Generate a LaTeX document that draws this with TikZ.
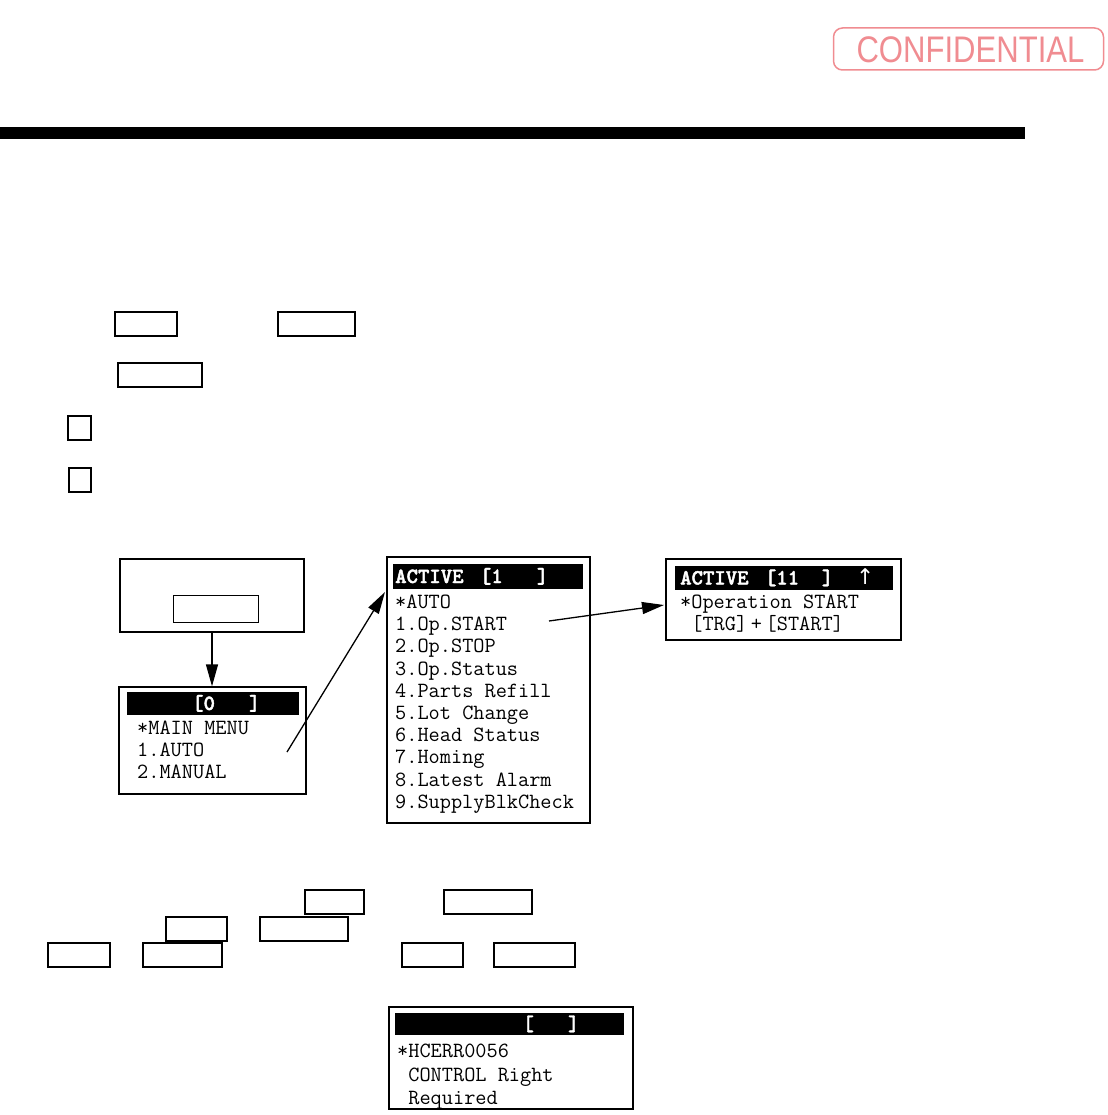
\documentclass[tikz,border=0pt]{standalone}
\usepackage{fontspec}
\setmainfont{Liberation Sans}
\newfontfamily\symfont{DejaVu Sans}
\newfontfamily\scrbold{lmmonolt10-bold.otf}[FakeBold=2]
\usetikzlibrary{arrows.meta,positioning}
\definecolor{stampred}{RGB}{240,140,145}
\tikzset{
  keybox/.style={
    draw,
    line width=1.3pt,
    minimum height=24pt,
    inner sep=0pt
  },
  screen/.style={
    draw,
    line width=1.3pt,
    inner sep=0pt
  },
  scrbar/.style={
    fill=black,
    inner sep=0pt,
    minimum height=24pt
  },
  scrline/.style={
    anchor=base west,
    inner sep=0pt,
    font=\ttfamily\fontsize{21.7}{22}\selectfont
  },
  scrhead/.style={
    anchor=base west,
    inner sep=0pt,
    text=white,
    font=\scrbold\fontsize{21.7}{22}\selectfont
  },
  link/.style={
    line width=1.3pt,
    -{Triangle[length=22pt,width=12pt]}
  },
}

\begin{document}
\begin{tikzpicture}[x=1pt,y=-1pt]
\useasboundingbox (0,0) rectangle (1107,1115);

% stamp and page rule
\node[draw=stampred, line width=1.5pt, rounded corners=9pt,
  minimum width=270pt, minimum height=42pt, inner sep=0pt]
  (stamp) at (968.5,49) {};
\node[text=stampred, font=\fontsize{37}{37}\selectfont, xscale=0.84, inner sep=0pt]
  (stamptext) at (970.5,49.5) {CONFIDENTIAL};
\node[fill=black, minimum width=1025pt, minimum height=12pt, inner sep=0pt]
  (rule) at (512.5,133) {};

% key boxes in the text
\node[keybox, minimum width=62pt] (keyA) at (146,324) {};
\node[keybox, minimum width=77pt] (keyB) at (316.5,324) {};
\node[keybox, minimum width=84pt] (keyC) at (160,375) {};
\node[keybox, minimum width=23pt] (keyD) at (79.5,428) {};
\node[keybox, minimum width=22pt] (keyE) at (80,480) {};
\node[keybox, minimum width=59pt] (keyF) at (334.5,902) {};
\node[keybox, minimum width=88pt] (keyG) at (488,902) {};
\node[keybox, minimum width=61pt] (keyH) at (196.5,929) {};
\node[keybox, minimum width=88pt] (keyI) at (304,929) {};
\node[keybox, minimum width=62pt] (keyJ) at (79,955) {};
\node[keybox, minimum width=79pt] (keyK) at (182.5,955) {};
\node[keybox, minimum width=61pt] (keyL) at (432.5,955) {};
\node[keybox, minimum width=81pt] (keyM) at (534.5,955) {};

% start screen
\node[screen, minimum width=184pt, minimum height=73pt]
  (start) at (212,595.5) {};
\node[draw, line width=0.8pt, minimum width=85pt, minimum height=27pt, inner sep=0pt]
  (startkey) at (215.5,608.5) {};

% main menu
\node[screen, minimum width=187pt, minimum height=107pt]
  (mm) at (212.5,740.5) {};
\node[scrbar, minimum width=172pt, minimum height=23pt]
  (mmbar) at (213,703.5) {};
\node[scrhead] (mmhead) at (135,710) {~~~~~[0~~~]};
\foreach \txt [count=\i from 0] in {*MAIN MENU, 1.AUTO, 2.MANUAL}
  \node[scrline] (mm-\i) at (137,734.5+22*\i) {\txt};

% auto menu
\node[screen, minimum width=203pt, minimum height=266pt]
  (act) at (488.5,690) {};
\node[scrbar, minimum width=190pt, minimum height=25pt]
  (actbar) at (488,576.5) {};
\node[scrhead] (acthead) at (395,583) {ACTIVE\hspace{5pt}~[1~~~]};
\foreach \txt [count=\i from 0] in {*AUTO, 1.Op.START, 2.Op.STOP,
    3.Op.Status, 4.Parts Refill, 5.Lot Change, 6.Head Status,
    7.Homing, 8.Latest Alarm, 9.SupplyBlkCheck}
  \node[scrline] (act-\i) at (395,608.5+22.2*\i) {\txt};

% operation start
\node[screen, minimum width=235pt, minimum height=81pt]
  (opst) at (783.5,599.5) {};
\node[scrbar, minimum width=218pt]
  (opstbar) at (784,578) {};
\node[scrhead] (opsthead) at (680,584.5)
  {ACTIVE\hspace{5pt}~[11~~]~~{\symfont ↑}};
\foreach \txt [count=\i from 0] in {*Operation START, ~[TRG]\,+\,[START]}
  \node[scrline] (opst-\i) at (680,608.5+22*\i) {\txt};

% error screen
\node[screen, minimum width=244pt, minimum height=102pt]
  (err) at (511,1058) {};
\node[scrbar, minimum width=229pt, minimum height=22pt]
  (errbar) at (509.5,1024) {};
\node[scrhead] (errhead) at (397,1030.5) {~~~~~~~~~~~[~~~]};
\foreach \txt [count=\i from 0] in {*HCERR0056, ~CONTROL Right, ~Required}
  \node[scrline] (err-\i) at (397,1057.5+23.5*\i) {\txt};

% connectors
\coordinate (mmtail) at (287,752);
\coordinate (acttip) at (385,592);
\coordinate (acttail) at (549,621);
\coordinate (opsttip) at (664,605);
\draw[link] (start.south) -- (start.south |- mm.north);
\draw[link] (mmtail) -- (acttip);
\draw[link] (acttail) -- (opsttip);
\end{tikzpicture}
\end{document}
